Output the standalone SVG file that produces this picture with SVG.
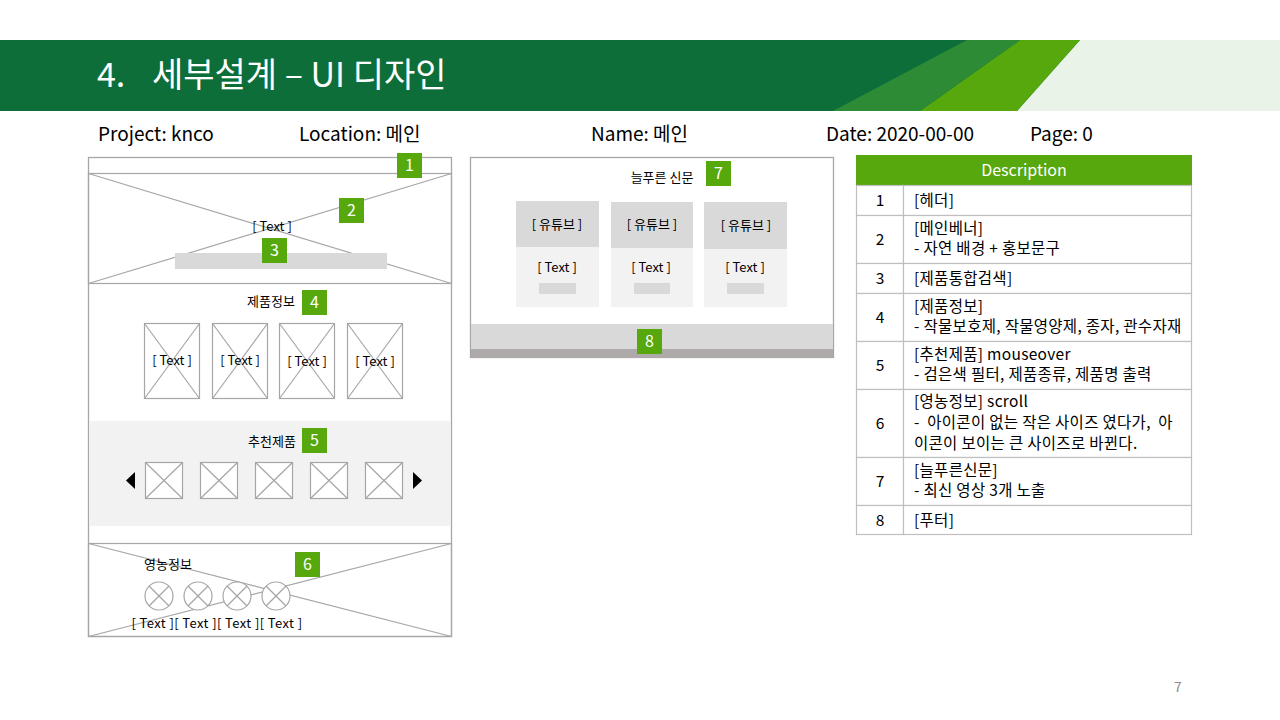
<svg xmlns="http://www.w3.org/2000/svg" width="1280" height="720" viewBox="0 0 1280 720">
<style>
.t{font-family:"Noto Sans CJK KR","Noto Sans",sans-serif;fill:#000}
.w{font-size:13px;text-anchor:middle}
.frame{fill:#fff;stroke:#A6A6A6;stroke-width:1.3}
.ln{stroke:#A6A6A6;stroke-width:1.2;fill:none}
.img{fill:#fff;stroke:#A6A6A6;stroke-width:1.2}
.badge rect{fill:#56A80C}
.badge text{font-family:"Noto Sans CJK KR","Noto Sans",sans-serif;font-size:16px;fill:#fff;text-anchor:middle}
.info{font-family:"Noto Sans CJK KR","Noto Sans",sans-serif;font-size:19px;fill:#000}
.cell{fill:#fff;stroke:#BFBFBF;stroke-width:1.2}
.dt{font-family:"Noto Sans CJK KR","Noto Sans",sans-serif;font-size:15.5px;fill:#000}
</style>
<rect width="1280" height="720" fill="#fff"/>
<g id="header">
<rect x="0" y="40" width="1280" height="71" fill="#0D6E3A"/>
<polygon points="1080,40 1280,40 1280,111 1017,111" fill="#EAF3E8"/>
<polygon points="1020,40 1080,40 1017,111 920,111" fill="#56A80C"/>
<polygon points="967,40 1020,40 920,111 833,111" fill="#2E8B35"/>
<text x="97" y="87" font-family="Noto Sans CJK KR,Noto Sans,sans-serif" font-size="34" fill="#fff">4.</text>
<text x="152" y="87" font-family="Noto Sans CJK KR,Noto Sans,sans-serif" font-size="34" fill="#fff">세부설계 – UI 디자인</text>
</g>
<g id="info">
<text class="info" x="98" y="141">Project: knco</text>
<text class="info" x="299" y="141">Location: 메인</text>
<text class="info" x="591" y="141">Name: 메인</text>
<text class="info" x="826" y="141">Date: 2020-00-00</text>
<text class="info" x="1030" y="141">Page: 0</text>
</g>
<g id="mockup-main">
<rect class="frame" x="88.5" y="157.5" width="363" height="479"/>
<g id="banner">
<rect class="ln" x="88.5" y="173.5" width="363" height="110"/>
<line class="ln" x1="88.5" y1="173.5" x2="451.5" y2="283.5"/>
<line class="ln" x1="88.5" y1="283.5" x2="451.5" y2="173.5"/>
<text class="t w" x="272" y="231">[ Text ]</text>
<rect x="175" y="253" width="212" height="16" fill="#D9D9D9"/>
</g>
<g id="products">
<text class="t w" x="271" y="306">제품정보</text>
<g class="img">
<rect x="144.5" y="323.5" width="55" height="75"/><line x1="144.5" y1="323.5" x2="199.5" y2="398.5"/><line x1="199.5" y1="323.5" x2="144.5" y2="398.5"/>
<rect x="212.5" y="323.5" width="55" height="75"/><line x1="212.5" y1="323.5" x2="267.5" y2="398.5"/><line x1="267.5" y1="323.5" x2="212.5" y2="398.5"/>
<rect x="279.5" y="323.5" width="55" height="75"/><line x1="279.5" y1="323.5" x2="334.5" y2="398.5"/><line x1="334.5" y1="323.5" x2="279.5" y2="398.5"/>
<rect x="347.5" y="323.5" width="55" height="75"/><line x1="347.5" y1="323.5" x2="402.5" y2="398.5"/><line x1="402.5" y1="323.5" x2="347.5" y2="398.5"/>
</g>
<text class="t w" x="172" y="365">[ Text ]</text>
<text class="t w" x="240" y="365">[ Text ]</text>
<text class="t w" x="307" y="366">[ Text ]</text>
<text class="t w" x="375" y="366">[ Text ]</text>
</g>
<g id="recommend">
<rect x="89" y="421" width="362" height="105" fill="#F2F2F2"/>
<text class="t w" x="272" y="446">추천제품</text>
<g class="img">
<rect x="145.5" y="462.5" width="37" height="36"/><line x1="145.5" y1="462.5" x2="182.5" y2="498.5"/><line x1="182.5" y1="462.5" x2="145.5" y2="498.5"/>
<rect x="200.5" y="462.5" width="37" height="36"/><line x1="200.5" y1="462.5" x2="237.5" y2="498.5"/><line x1="237.5" y1="462.5" x2="200.5" y2="498.5"/>
<rect x="255.5" y="462.5" width="37" height="36"/><line x1="255.5" y1="462.5" x2="292.5" y2="498.5"/><line x1="292.5" y1="462.5" x2="255.5" y2="498.5"/>
<rect x="310.5" y="462.5" width="37" height="36"/><line x1="310.5" y1="462.5" x2="347.5" y2="498.5"/><line x1="347.5" y1="462.5" x2="310.5" y2="498.5"/>
<rect x="365.5" y="462.5" width="37" height="36"/><line x1="365.5" y1="462.5" x2="402.5" y2="498.5"/><line x1="402.5" y1="462.5" x2="365.5" y2="498.5"/>
</g>
<polygon points="135,472 135,489 126,480.5" fill="#000"/>
<polygon points="413,472 413,489 422,480.5" fill="#000"/>
</g>
<g id="farm">
<rect class="ln" x="88.5" y="543.5" width="363" height="93"/>
<line class="ln" x1="88.5" y1="543.5" x2="451.5" y2="636.5"/>
<line class="ln" x1="88.5" y1="636.5" x2="451.5" y2="543.5"/>
<text class="t w" x="168" y="569">영농정보</text>
<g class="img">
<circle cx="159" cy="596" r="14"/><line x1="149" y1="586" x2="169" y2="606"/><line x1="169" y1="586" x2="149" y2="606"/>
<circle cx="198" cy="596" r="14"/><line x1="188" y1="586" x2="208" y2="606"/><line x1="208" y1="586" x2="188" y2="606"/>
<circle cx="237" cy="596" r="14"/><line x1="227" y1="586" x2="247" y2="606"/><line x1="247" y1="586" x2="227" y2="606"/>
<circle cx="276" cy="596" r="14"/><line x1="266" y1="586" x2="286" y2="606"/><line x1="286" y1="586" x2="266" y2="606"/>
</g>
<text class="t w" x="217" y="628" letter-spacing="0.4">[ Text ][ Text ][ Text ][ Text ]</text>
</g>
</g>
<g id="mockup-news">
<rect class="frame" x="470.5" y="157.5" width="363" height="200"/>
<text class="t w" x="662" y="182">늘푸른 신문</text>
<g id="cards">
<rect x="516" y="201" width="83" height="46" fill="#D9D9D9"/><rect x="516" y="247" width="83" height="60" fill="#F2F2F2"/>
<rect x="611" y="202" width="82" height="46" fill="#D9D9D9"/><rect x="611" y="248" width="82" height="59" fill="#F2F2F2"/>
<rect x="704" y="202" width="83" height="47" fill="#D9D9D9"/><rect x="704" y="249" width="83" height="58" fill="#F2F2F2"/>
<rect x="539" y="283" width="37" height="11" fill="#D9D9D9"/>
<rect x="634" y="283" width="36" height="11" fill="#D9D9D9"/>
<rect x="727" y="283" width="37" height="11" fill="#D9D9D9"/>
<text class="t w" x="557" y="229">[ 유튜브 ]</text>
<text class="t w" x="652" y="229">[ 유튜브 ]</text>
<text class="t w" x="746" y="230">[ 유튜브 ]</text>
<text class="t w" x="557" y="272">[ Text ]</text>
<text class="t w" x="651" y="272">[ Text ]</text>
<text class="t w" x="745" y="272">[ Text ]</text>
</g>
<rect x="471" y="324" width="362" height="25" fill="#D9D9D9"/>
<rect x="471" y="349" width="362" height="9" fill="#AEAAAA"/>
</g>
<g id="badges">
<g class="badge"><rect x="397" y="153" width="25" height="25"/><text x="409.5" y="171">1</text></g>
<g class="badge"><rect x="339" y="198" width="25" height="25"/><text x="351.5" y="216">2</text></g>
<g class="badge"><rect x="262" y="238" width="25" height="25"/><text x="274.5" y="256">3</text></g>
<g class="badge"><rect x="302" y="290" width="25" height="25"/><text x="314.5" y="308">4</text></g>
<g class="badge"><rect x="302" y="428" width="25" height="25"/><text x="314.5" y="446">5</text></g>
<g class="badge"><rect x="295" y="552" width="25" height="25"/><text x="307.5" y="570">6</text></g>
<g class="badge"><rect x="706" y="161" width="25" height="25"/><text x="718.5" y="179">7</text></g>
<g class="badge"><rect x="637" y="329" width="25" height="25"/><text x="649.5" y="347">8</text></g>
</g>
<g id="table">
<rect x="856" y="155" width="336" height="30" fill="#56A80C"/>
<text x="1024" y="176" font-family="Noto Sans CJK KR,Noto Sans,sans-serif" font-size="16" fill="#fff" text-anchor="middle">Description</text>
<g>
<rect class="cell" x="856.5" y="185.5" width="47" height="30"/><rect class="cell" x="903.5" y="185.5" width="288" height="30"/>
<rect class="cell" x="856.5" y="215.5" width="47" height="48"/><rect class="cell" x="903.5" y="215.5" width="288" height="48"/>
<rect class="cell" x="856.5" y="263.5" width="47" height="30"/><rect class="cell" x="903.5" y="263.5" width="288" height="30"/>
<rect class="cell" x="856.5" y="293.5" width="47" height="48"/><rect class="cell" x="903.5" y="293.5" width="288" height="48"/>
<rect class="cell" x="856.5" y="341.5" width="47" height="48"/><rect class="cell" x="903.5" y="341.5" width="288" height="48"/>
<rect class="cell" x="856.5" y="389.5" width="47" height="68"/><rect class="cell" x="903.5" y="389.5" width="288" height="68"/>
<rect class="cell" x="856.5" y="457.5" width="47" height="48"/><rect class="cell" x="903.5" y="457.5" width="288" height="48"/>
<rect class="cell" x="856.5" y="505.5" width="47" height="29"/><rect class="cell" x="903.5" y="505.5" width="288" height="29"/>
</g>
<g class="dt" text-anchor="middle">
<text x="880" y="206">1</text>
<text x="880" y="245">2</text>
<text x="880" y="284">3</text>
<text x="880" y="323">4</text>
<text x="880" y="371">5</text>
<text x="880" y="429">6</text>
<text x="880" y="487">7</text>
<text x="880" y="526">8</text>
</g>
<g class="dt" letter-spacing="0.3">
<text x="914" y="206">[헤더]</text>
<text x="914" y="234">[메인베너]</text>
<text x="914" y="254">- 자연 배경 + 홍보문구</text>
<text x="914" y="284">[제품통합검색]</text>
<text x="914" y="312">[제품정보]</text>
<text x="914" y="332">- 작물보호제, 작물영양제, 종자, 관수자재</text>
<text x="914" y="360">[추천제품] mouseover</text>
<text x="914" y="380">- 검은색 필터, 제품종류, 제품명 출력</text>
<text x="914" y="407">[영농정보] scroll</text>
<text x="914" y="428" xml:space="preserve">-  아이콘이 없는 작은 사이즈 였다가,  아</text>
<text x="914" y="449">이콘이 보이는 큰 사이즈로 바뀐다.</text>
<text x="914" y="476">[늘푸른신문]</text>
<text x="914" y="496">- 최신 영상 3개 노출</text>
<text x="914" y="526">[푸터]</text>
</g>
</g>
<text x="1178" y="692" font-family="Noto Sans CJK KR,Noto Sans,sans-serif" font-size="14" fill="#8C8C8C" text-anchor="middle">7</text>
</svg>
